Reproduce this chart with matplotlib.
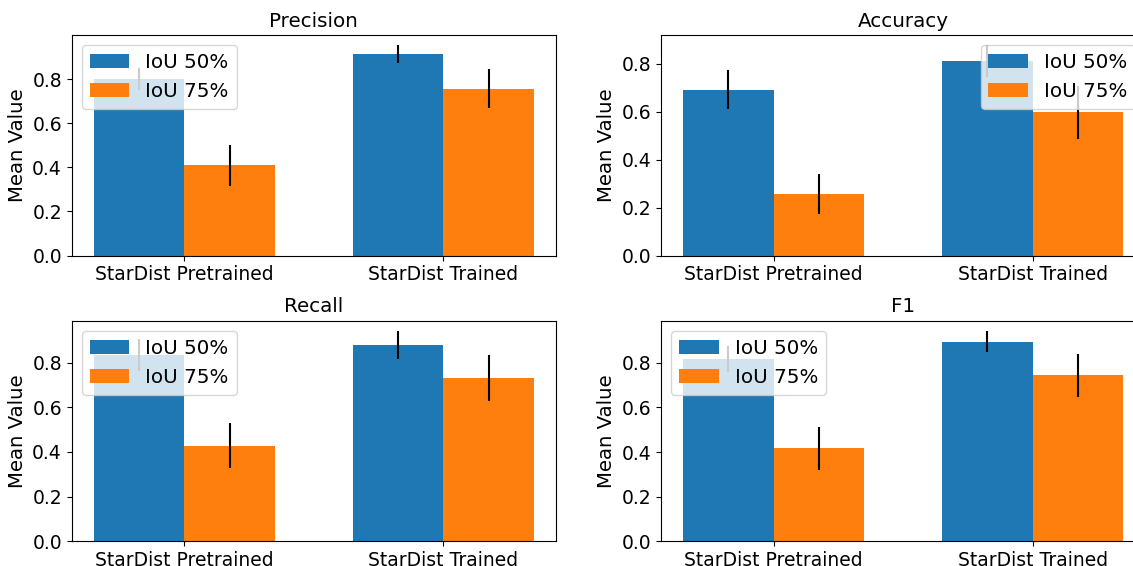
import matplotlib.pyplot as plt
import numpy as np

plt.rcParams['font.size'] = 13.5

models = ['StarDist Pretrained', 'StarDist Trained']
metrics = ['Precision', 'Accuracy', 'Recall', 'F1']

# mean values and std for each metric, one entry per model
iou50_mean = {'Precision': [0.800, 0.913], 'Accuracy': [0.693, 0.811],
              'Recall': [0.834, 0.878], 'F1': [0.816, 0.894]}
iou50_std = {'Precision': [0.051, 0.039], 'Accuracy': [0.081, 0.066],
             'Recall': [0.070, 0.062], 'F1': [0.057, 0.047]}
iou75_mean = {'Precision': [0.408, 0.756], 'Accuracy': [0.257, 0.598],
              'Recall': [0.428, 0.733], 'F1': [0.416, 0.743]}
iou75_std = {'Precision': [0.094, 0.089], 'Accuracy': [0.082, 0.110],
             'Recall': [0.100, 0.103], 'F1': [0.097, 0.095]}

legend_loc = {'Precision': 'upper left', 'Accuracy': 'upper right',
              'Recall': 'upper left', 'F1': 'upper left'}

width = 0.35
x = np.arange(len(models))

fig, axes = plt.subplots(2, 2, figsize=(11.33, 5.66), dpi=100)
fig.subplots_adjust(left=0.0633, right=1.0109, top=0.9382, bottom=0.0436,
                    wspace=0.2168, hspace=0.296)

for ax, metric in zip(axes.flat, metrics):
    ax.bar(x - width / 2, iou50_mean[metric], width, yerr=iou50_std[metric], label='IoU 50%')
    ax.bar(x + width / 2, iou75_mean[metric], width, yerr=iou75_std[metric], label='IoU 75%')
    ax.set_title(metric, fontsize=14.3)
    ax.set_ylabel('Mean Value', fontsize=14.2)
    ax.set_xticks(x)
    ax.set_xticklabels(models)
    ax.legend(loc=legend_loc[metric], fontsize=14.3)

plt.savefig('out.png', dpi=100)
